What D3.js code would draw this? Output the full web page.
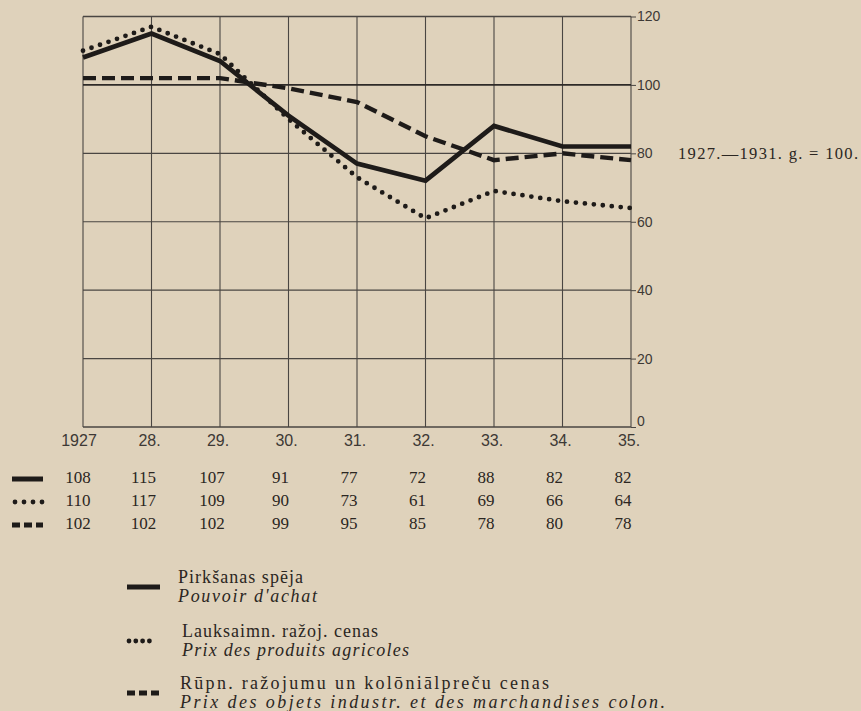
<!DOCTYPE html>
<html>
<head>
<meta charset="utf-8">
<script src="https://cdn.jsdelivr.net/npm/d3@7"></script>
<style>
  body { margin: 0; background: #dfd2bb; }
  svg { display: block; }
  .serif { font-family: "Liberation Serif", "DejaVu Serif", serif; fill: #2b2622; }
  .draft { font-family: "Liberation Sans", "DejaVu Sans", sans-serif; fill: #3d3935; }
</style>
</head>
<body>
<div id="chart"></div>
<script>
// Chart values
var years = ["1927", "28.", "29.", "30.", "31.", "32.", "33.", "34.", "35."];
var purchasing = [108, 115, 107, 91, 77, 72, 88, 82, 82];   // Pirkšanas spēja
var agricultural = [110, 117, 109, 90, 73, 61, 69, 66, 64]; // Lauksaimn. ražoj. cenas
var industrial = [102, 102, 102, 99, 95, 85, 78, 80, 78];   // Rūpn. ražojumu ...
var yTicks = [0, 20, 40, 60, 80, 100, 120];
var legendLv = ["Pirkšanas spēja", "Lauksaimn. ražoj. cenas", "Rūpn. ražojumu un kolōniālpreču cenas"];
var legendFr = ["Pouvoir d'achat", "Prix des produits agricoles", "Prix des objets industr. et des marchandises colon."];
var baseNote = "1927.—1931. g. = 100.";

var W = 861, H = 711;
var styles = [
  {dash: null, cap: "butt", w: 4.7},
  {dash: "0,9", cap: "round", w: 4.8},
  {dash: "13,6", cap: "butt", w: 4.4}
];
var seriesList = [purchasing, agricultural, industrial];

var svg = d3.select("#chart").append("svg")
  .attr("width", W).attr("height", H);

// scales
var x = d3.scaleLinear().domain([0, years.length - 1]).range([83, 631]);
var y = d3.scaleLinear().domain([0, 120]).range([427, 16.5]);

// grid: vertical lines
svg.append("g").selectAll("line").data(years).enter().append("line")
  .attr("x1", function(d, i) { return x(i); })
  .attr("x2", function(d, i) { return x(i); })
  .attr("y1", y(0)).attr("y2", y(120))
  .attr("stroke", "#4a4642").attr("stroke-width", 1.1);

// grid: horizontal lines + right axis
var yAxis = d3.axisRight(y).tickValues(yTicks).tickSize(5).tickPadding(1);
var ga = svg.append("g").attr("transform", "translate(" + x(years.length - 1) + ",0)").call(yAxis);
ga.select(".domain").remove();
ga.selectAll("line").attr("stroke", "#4a4642");
ga.selectAll("text").attr("class", "draft").style("font-size", "14px").attr("fill", "#3d3935");
ga.selectAll("text").filter(function(d) { return d === 0; }).attr("dy", "-0.1em");

svg.append("g").selectAll("line").data(yTicks).enter().append("line")
  .attr("x1", x(0)).attr("x2", x(years.length - 1))
  .attr("y1", function(d) { return y(d); })
  .attr("y2", function(d) { return y(d); })
  .attr("stroke", function(d) { return d === 100 ? "#2e2a27" : "#4a4642"; })
  .attr("stroke-width", function(d) { return d === 100 ? 1.8 : (d === 120 || d === 0 ? 1.4 : 1.1); });

// x labels
svg.append("g").selectAll("text").data(years).enter().append("text")
  .attr("class", "draft")
  .attr("x", function(d, i) { return x(i) - (i === 0 ? 4 : 2); })
  .attr("y", 446)
  .attr("text-anchor", "middle")
  .style("font-size", "16px")
  .text(function(d) { return d; });

// lines
var line = d3.line()
  .x(function(d, i) { return x(i); })
  .y(function(d) { return y(d); });

[2, 1, 0].forEach(function(k) {
  svg.append("path")
    .attr("d", line(seriesList[k]))
    .attr("fill", "none")
    .attr("stroke", "#1e1b19")
    .attr("stroke-width", styles[k].w)
    .attr("stroke-linecap", styles[k].cap)
    .attr("stroke-linejoin", "miter")
    .attr("stroke-dasharray", styles[k].dash);
});

// base note
svg.append("text").attr("class", "serif")
  .attr("x", 678).attr("y", 159)
  .style("font-size", "16.5px")
  .attr("textLength", 180).attr("lengthAdjust", "spacing")
  .text(baseNote);

// symbol helper
function symbol(k, x0, x1, yy, gap) {
  svg.append("line")
    .attr("x1", x0).attr("x2", x1)
    .attr("y1", yy).attr("y2", yy)
    .attr("stroke", "#1e1b19")
    .attr("stroke-width", k === 0 ? 5 : 4.8)
    .attr("stroke-linecap", styles[k].cap)
    .attr("stroke-dasharray", k === 2 ? "8,4" : k === 0 ? null : "0," + gap);
}

// table
var rowY = [483, 506, 529];
seriesList.forEach(function(s, k) {
  symbol(k, k === 1 ? 15 : 12, k === 1 ? 42.5 : 43, rowY[k] - 4, 9);
  svg.append("g").selectAll("text").data(s).enter().append("text")
    .attr("class", "serif")
    .attr("x", function(d, i) { return x(i) - (i === 0 ? 5 : 8); })
    .attr("y", rowY[k])
    .attr("text-anchor", "middle")
    .style("font-size", "17px")
    .text(function(d) { return d; });
});

// legend
var legY = [578, 632, 684];
var lvLen = [125, 196, 369];
var frLen = [139, 227, 485];
legendLv.forEach(function(t, k) {
  var tx = k === 0 ? 178 : (k === 1 ? 182 : 180);
  symbol(k, k === 1 ? 129 : 127, k === 1 ? 149.5 : 160, legY[k] + 9, 6.8);
  svg.append("text").attr("class", "serif")
    .attr("x", tx).attr("y", legY[k] + 5)
    .style("font-size", "18px")
    .attr("textLength", lvLen[k]).attr("lengthAdjust", "spacing")
    .text(t);
  svg.append("text").attr("class", "serif")
    .attr("x", tx).attr("y", legY[k] + 24)
    .style("font-size", "18px").style("font-style", "italic")
    .attr("textLength", frLen[k]).attr("lengthAdjust", "spacing")
    .text(legendFr[k]);
});
</script>
</body>
</html>
